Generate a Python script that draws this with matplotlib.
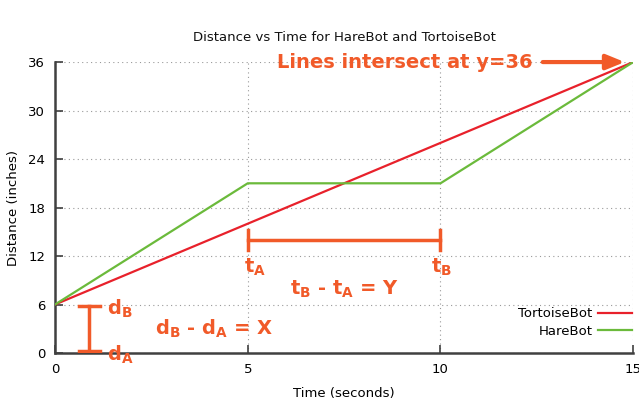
import matplotlib
matplotlib.use("Agg")
import matplotlib.pyplot as plt

plt.rcParams['mathtext.fontset'] = 'custom'
plt.rcParams['mathtext.bf'] = 'DejaVu Sans:bold'
plt.rcParams['mathtext.rm'] = 'DejaVu Sans'

# data
tortoise_t = [0, 15]
tortoise_d = [6, 36]
hare_t = [0, 5, 10, 15]
hare_d = [6, 21, 21, 36]
x_ticks = [0, 5, 10, 15]
y_ticks = [0, 6, 12, 18, 24, 30, 36]

ORANGE = '#F15A29'
AXCOL = '#404040'

fig = plt.figure(figsize=(6.39, 4.03), dpi=100)
ax = fig.add_axes([0.086, 0.124, 0.905, 0.722])

ax.plot(tortoise_t, tortoise_d, color='#E8212B', lw=1.6, label='TortoiseBot', zorder=3)
ax.plot(hare_t, hare_d, color='#6BBA3B', lw=1.6, label='HareBot', zorder=3)

ax.set_xlim(0, 15)
ax.set_ylim(0, 36)
ax.set_xticks(x_ticks)
ax.set_yticks(y_ticks)
ax.grid(True, color='#999999', ls=(0, (1, 3)), lw=0.8)
for s in ['top', 'right']:
    ax.spines[s].set_visible(False)
for s in ['left', 'bottom']:
    ax.spines[s].set_color(AXCOL)
    ax.spines[s].set_linewidth(1.8)
ax.tick_params(direction='in', length=6, width=1.2, color=AXCOL, labelsize=9.5, pad=7)

ax.set_title('Distance vs Time for HareBot and TortoiseBot', fontsize=9.5, pad=15, color='#111111')
ax.set_xlabel('Time (seconds)', fontsize=9.5, labelpad=8)
ax.set_ylabel('Distance (inches)', fontsize=9.5, labelpad=6)

leg = ax.legend(loc='lower right', bbox_to_anchor=(0.998, 0.052), frameon=False, fontsize=9.5,
                markerfirst=False, handlelength=2.6, handletextpad=0.4, labelspacing=0.35,
                borderpad=0, borderaxespad=0)

# annotations
ax.text(12.38, 36, 'Lines intersect at y=36', color=ORANGE, fontsize=14, fontweight='bold',
        ha='right', va='center', clip_on=False)
ax.annotate('', xy=(14.85, 36), xytext=(12.58, 36),
            arrowprops=dict(arrowstyle='-|>,head_length=1.1,head_width=0.45', color=ORANGE, lw=3),
            annotation_clip=False)

# time bracket
ax.plot([5, 10], [14, 14], color=ORANGE, lw=2.5, zorder=4)
ax.plot([5, 5], [12.8, 15.2], color=ORANGE, lw=2.5, zorder=4)
ax.plot([10, 10], [12.8, 15.2], color=ORANGE, lw=2.5, zorder=4)
ax.text(5.19, 10.6, r'$\mathbf{t_A}$', color=ORANGE, fontsize=14, ha='center', va='center')
ax.text(10.02, 10.6, r'$\mathbf{t_B}$', color=ORANGE, fontsize=14, ha='center', va='center')
ax.text(7.5, 7.9, r'$\mathbf{t_B}$ - $\mathbf{t_A}$ = Y', color=ORANGE, fontsize=14,
        fontweight='bold', ha='center', va='center')

# distance bracket
ax.plot([0.88, 0.88], [0.2, 5.8], color=ORANGE, lw=2.5, zorder=4)
ax.plot([0.62, 1.16], [5.8, 5.8], color=ORANGE, lw=2.5, zorder=4)
ax.plot([0.62, 1.16], [0.2, 0.2], color=ORANGE, lw=2.5, zorder=4)
ax.text(1.36, 5.5, r'$\mathbf{d_B}$', color=ORANGE, fontsize=14, ha='left', va='center')
ax.text(1.36, -0.2, r'$\mathbf{d_A}$', color=ORANGE, fontsize=14, ha='left', va='center',
        clip_on=False)
ax.text(4.13, 3.0, r'$\mathbf{d_B}$ - $\mathbf{d_A}$ = X', color=ORANGE, fontsize=14,
        fontweight='bold', ha='center', va='center')

fig.savefig('out.png', dpi=100)
